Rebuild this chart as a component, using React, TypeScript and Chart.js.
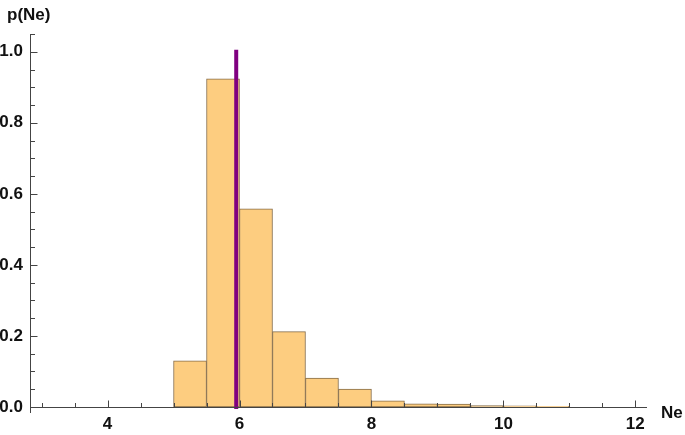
import React, { useEffect, useRef } from "react";
import { Chart, registerables } from "chart.js";

Chart.register(...registerables);

// ---- data ----
const binCenters = [5.25, 5.75, 6.25, 6.75, 7.25, 7.75, 8.25, 8.75, 9.25, 9.75, 10.25, 10.75];
const binProbs = [0.13, 0.924, 0.558, 0.212, 0.081, 0.05, 0.0175, 0.009, 0.008, 0.004, 0.003, 0.002];
const markerNe = 5.95;
const markerTop = 1.0;

const xMajorTicks = [4, 6, 8, 10, 12];
const xMinorTicks = [3, 3.5, 4.5, 5, 5.5, 6.5, 7, 7.5, 8.5, 9, 9.5, 10.5, 11, 11.5];
const yMajorTicks = [0, 0.2, 0.4, 0.6, 0.8, 1.0];
const yMinorTicks = [0.05, 0.1, 0.15, 0.25, 0.3, 0.35, 0.45, 0.5, 0.55, 0.65, 0.7, 0.75, 0.85, 0.9, 0.95, 1.05];

const xLabel = "Ne";
const yLabel = "p(Ne)";

const FONT_FAMILY = '"Liberation Sans", Arial, Helvetica, sans-serif';
const TEXT_COLOR = "#111111";
const AXIS_COLOR = "#444444";

const axesPlugin = {
  id: "mmaAxes",
  afterDatasetsDraw(chart: any) {
    const { ctx, chartArea, scales } = chart;
    const xs = scales.x;
    const ys = scales.y;
    const y0 = Math.round(ys.getPixelForValue(0)) + 0.5;
    const xl = Math.round(chartArea.left) + 0.5;
    ctx.save();
    ctx.strokeStyle = AXIS_COLOR;
    ctx.lineWidth = 1;
    ctx.beginPath();
    // x axis
    ctx.moveTo(chartArea.left, y0);
    ctx.lineTo(chartArea.right, y0);
    // y axis
    ctx.moveTo(xl, chartArea.top);
    ctx.lineTo(xl, chartArea.bottom);
    // x ticks
    xMajorTicks.forEach((v) => {
      const px = Math.round(xs.getPixelForValue(v)) + 0.5;
      ctx.moveTo(px, y0);
      ctx.lineTo(px, y0 - 7);
    });
    xMinorTicks.forEach((v) => {
      const px = Math.round(xs.getPixelForValue(v)) + 0.5;
      ctx.moveTo(px, y0);
      ctx.lineTo(px, y0 - 4.5);
    });
    // y ticks
    yMajorTicks.forEach((v) => {
      const py = Math.round(ys.getPixelForValue(v)) + 0.5;
      ctx.moveTo(xl, py);
      ctx.lineTo(xl + 7, py);
    });
    yMinorTicks.forEach((v) => {
      const py = Math.round(ys.getPixelForValue(v)) + 0.5;
      ctx.moveTo(xl, py);
      ctx.lineTo(xl + 4.5, py);
    });
    ctx.stroke();

    // axis labels
    ctx.fillStyle = TEXT_COLOR;
    ctx.font = `bold 17px ${FONT_FAMILY}`;
    ctx.textBaseline = "middle";
    ctx.textAlign = "left";
    ctx.fillText(yLabel, 7, 15);
    ctx.fillText(xLabel, chartArea.right + 14, y0 + 6);
    ctx.restore();
  },
};

export default function App() {
  const canvasRef = useRef<HTMLCanvasElement | null>(null);

  useEffect(() => {
    if (!canvasRef.current) return;
    const chart = new Chart(canvasRef.current, {
      type: "bar",
      data: {
        datasets: [
          {
            type: "bar",
            data: binCenters.map((x, i) => ({ x, y: binProbs[i] })),
            backgroundColor: "#fdcd80",
            borderColor: "#866c48",
            borderWidth: 1,
            borderSkipped: false,
            barPercentage: 1,
            categoryPercentage: 1,
            order: 2,
          } as any,
          {
            type: "line",
            data: [
              { x: markerNe, y: 0 },
              { x: markerNe, y: markerTop },
            ],
            borderColor: "#800080",
            borderWidth: 4,
            borderCapStyle: "square",
            pointRadius: 0,
            fill: false,
            order: 1,
          } as any,
        ],
      },
      options: {
        animation: false,
        responsive: false,
        events: [],
        layout: { padding: { top: 34, right: 38, left: 0, bottom: 0 } },
        plugins: {
          legend: { display: false },
          tooltip: { enabled: false },
          title: { display: false },
        },
        scales: {
          x: {
            type: "linear",
            min: 2.824,
            max: 12.177,
            offset: false,
            grid: { display: false, drawTicks: false },
            border: { display: false },
            afterBuildTicks: (scale: any) => {
              scale.ticks = xMajorTicks.map((v) => ({ value: v }));
            },
            afterFit: (scale: any) => {
              scale.height = 22;
            },
            ticks: {
              padding: 1,
              maxRotation: 0,
              autoSkip: false,
              color: TEXT_COLOR,
              font: { family: FONT_FAMILY, size: 17, weight: "bold" },
              callback: (v: any) => String(v),
            },
          },
          y: {
            type: "linear",
            min: -0.017,
            max: 1.05,
            grid: { display: false, drawTicks: false },
            border: { display: false },
            afterBuildTicks: (scale: any) => {
              scale.ticks = yMajorTicks.map((v) => ({ value: v }));
            },
            afterFit: (scale: any) => {
              scale.width = 30;
            },
            ticks: {
              padding: 7,
              autoSkip: false,
              color: TEXT_COLOR,
              font: { family: FONT_FAMILY, size: 17, weight: "bold" },
              callback: (v: any) => Number(v).toFixed(1),
            },
          },
        },
      } as any,
      plugins: [axesPlugin],
    });
    return () => chart.destroy();
  }, []);

  return (
    <div style={{ position: "fixed", left: 0, top: 0, width: 685, height: 435, background: "#fff" }}>
      <canvas ref={canvasRef} width={685} height={435} style={{ display: "block" }} />
    </div>
  );
}
